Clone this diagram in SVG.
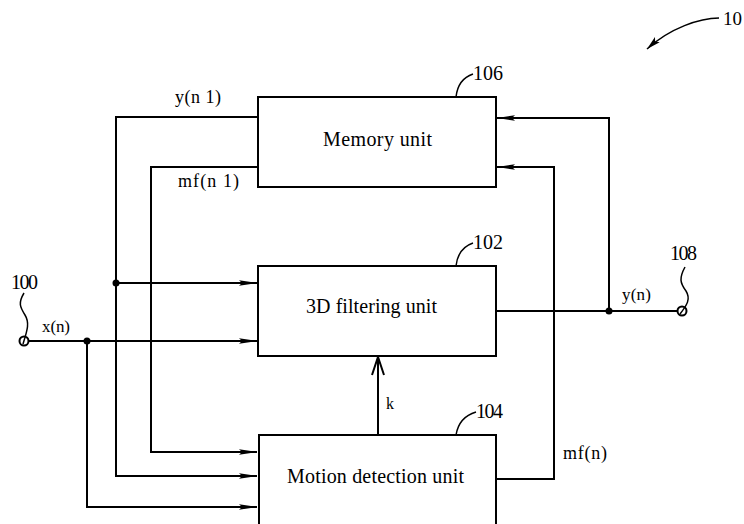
<svg xmlns="http://www.w3.org/2000/svg" width="744" height="524" viewBox="0 0 744 524">
<defs>
<style>
.box{fill:#fff;stroke:#000;stroke-width:2}
.ln{fill:none;stroke:#000;stroke-width:2}
.thin{fill:none;stroke:#000;stroke-width:1.5}
.t{font-family:"Liberation Serif","Times New Roman",serif;font-size:20px;fill:#000}
.l{font-family:"Liberation Serif","Times New Roman",serif;font-size:18px;fill:#000}
.dot{fill:#000}
</style>
<marker id="ah" viewBox="0 0 18 6" refX="18" refY="3" markerWidth="18" markerHeight="6" markerUnits="userSpaceOnUse" orient="auto">
<path d="M0,0.3 L18,3 L0,5.7 L3,3 z" fill="#000"/>
</marker>
<marker id="ah2" viewBox="0 0 14 8" refX="14" refY="4" markerWidth="14" markerHeight="8" markerUnits="userSpaceOnUse" orient="auto">
<path d="M0,0.5 L14,4 L0,7.5 L3,4 z" fill="#000"/>
</marker>
</defs>
<rect width="744" height="524" fill="#fff"/>

<g id="connectors">
<path class="ln" d="M258,117 H116 V476 H257" marker-end="url(#ah)"/>
<path class="ln" d="M116,283 H257" marker-end="url(#ah)"/>
<path class="ln" d="M258,167 H151 V452 H257" marker-end="url(#ah)"/>
<path class="ln" d="M28,341 H257" marker-end="url(#ah)"/>
<path class="ln" d="M87,341 V507 H257" marker-end="url(#ah)"/>
<path class="ln" d="M378,435 V357"/>
<path class="ln" d="M372,375 L378,357 L384,375"/>
<path class="ln" d="M496,311 H678"/>
<path class="ln" d="M609,311 V118 H497" marker-end="url(#ah)"/>
<path class="ln" d="M496,479 H554 V167 H497" marker-end="url(#ah)"/>
<circle class="dot" cx="116" cy="283" r="3.5"/>
<circle class="dot" cx="87" cy="341" r="3.5"/>
<circle class="dot" cx="609" cy="311" r="3.5"/>
<text class="l" x="175" y="103" textLength="46">y(n 1)</text>
<text class="l" x="178" y="187" textLength="61">mf(n 1)</text>
<text class="l" x="42" y="332" textLength="28" style="font-size:17px">x(n)</text>
<text class="l" x="622" y="300" textLength="29" style="font-size:17px">y(n)</text>
<text class="l" x="386" y="409" style="font-size:16px">k</text>
<text class="l" x="563" y="459" textLength="44">mf(n)</text>
</g>

<g id="n106">
<rect class="box" x="258" y="97" width="238" height="90"/>
<text class="t" x="323" y="146" textLength="109">Memory unit</text>
<path class="thin" d="M456,97 Q458,79 473,74"/>
<text class="t" x="473" y="80" textLength="30">106</text>
</g>

<g id="n102">
<rect class="box" x="258" y="266" width="238" height="90"/>
<text class="t" x="306" y="313" textLength="131">3D filtering unit</text>
<path class="thin" d="M456,266 Q458,248 473,243"/>
<text class="t" x="473" y="249" textLength="30">102</text>
</g>

<g id="n104">
<rect class="box" x="259" y="435" width="237" height="110"/>
<text class="t" x="287" y="483" textLength="177">Motion detection unit</text>
<path class="thin" d="M456,435 Q459,417 476,412"/>
<text class="t" x="476" y="418" textLength="27">104</text>
</g>

<g id="n100">
<circle class="ln" cx="24" cy="341" r="4.5"/>
<path class="thin" d="M24,293 C18,303 20,307 25,315 C30,323 27,331 23,344"/>
<text class="t" x="11" y="289" textLength="27">100</text>
</g>

<g id="n108">
<circle class="ln" cx="682" cy="311" r="4.5"/>
<path class="thin" d="M685,267 C679,278 680,283 686,291 C691,299 687,305 680,314"/>
<text class="t" x="670" y="260" textLength="27">108</text>
</g>

<g id="n10">
<path class="thin" d="M719,18 C700,18 670,28 647,49" marker-end="url(#ah2)"/>
<text class="t" x="723" y="25" style="font-size:19px">10</text>
</g>
</svg>
